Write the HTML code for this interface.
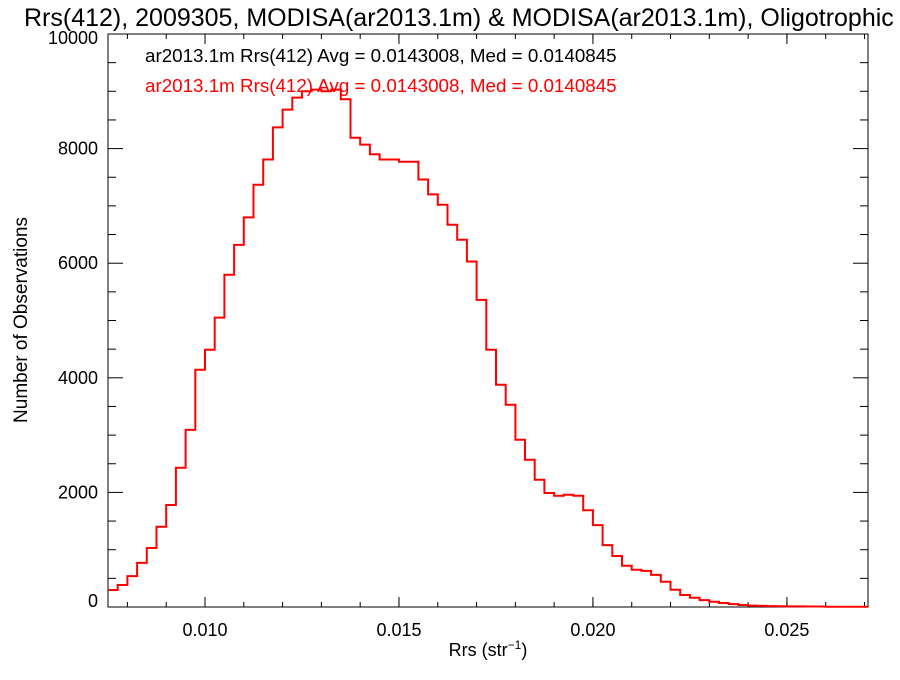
<!DOCTYPE html>
<html><head><meta charset="utf-8"><style>
body{margin:0;background:#fff;width:900px;height:675px;overflow:hidden;font-family:"Liberation Sans",sans-serif}
</style></head><body>
<svg id="chart" width="900" height="675" xmlns="http://www.w3.org/2000/svg" font-family="Liberation Sans, sans-serif">
<text x="24" y="26" font-size="25">Rrs(412), 2009305, MODISA(ar2013.1m) &amp; MODISA(ar2013.1m), Oligotrophic</text>
<rect x="108" y="34" width="760" height="573" fill="none" stroke="#000" stroke-width="1"/>
<g id="axes"></g>
<path id="hist" fill="none" stroke="#f00" stroke-width="2"/>
<text x="145" y="62" font-size="18.8" fill="#000">ar2013.1m Rrs(412) Avg = 0.0143008, Med = 0.0140845</text>
<text x="145" y="92" font-size="18.8" fill="#f00">ar2013.1m Rrs(412) Avg = 0.0143008, Med = 0.0140845</text>
<text x="488" y="656" font-size="18" text-anchor="middle">Rrs (str<tspan font-size="12" dy="-7">−1</tspan><tspan dy="7">)</tspan></text>
<text transform="translate(27,320) rotate(-90)" font-size="19" text-anchor="middle">Number of Observations</text>
</svg>
<script>
const binStart = 0.0075;
const binWidth = 0.00025;
const counts = [297,384,540,770,1030,1400,1780,2430,3090,4140,4490,5050,5800,6320,6800,7370,7810,8370,8680,8890,9000,9030,9000,9030,8860,8190,8070,7900,7810,7810,7770,7770,7460,7200,7020,6670,6410,6030,5360,4490,3880,3530,2920,2570,2220,1990,1940,1960,1940,1690,1430,1080,890,720,650,630,560,440,300,210,160,120,90,70,50,35,25,20,15,12,10,10,8,8,6,6,5,5,5];
const xTicks = [0.010,0.015,0.020,0.025];
const xTickLabels = ["0.010","0.015","0.020","0.025"];
const yTicks = [0,2000,4000,6000,8000,10000];
const yTickLabels = ["0","2000","4000","6000","8000","10000"];
const X0=108,X1=868,Y0=607,Y1=34,xmin=0.0075,xmax=0.02709,ymin=0,ymax=10000;
const sx=v=>X0+(v-xmin)/(xmax-xmin)*(X1-X0);
const sy=v=>Y0-(v-ymin)/(ymax-ymin)*(Y0-Y1);
const NS="http://www.w3.org/2000/svg";
const ax=document.getElementById('axes');
function mk(t,a){const e=document.createElementNS(NS,t);for(const k in a)e.setAttribute(k,a[k]);return e;}
xTicks.forEach((v,i)=>{
  const x=sx(v);
  const t1=mk('line',{x1:x,x2:x,y1:Y0,y2:Y0-10,stroke:'#000'});
  
  
  ax.appendChild(t1);
  const t2=mk('line',{x1:x,x2:x,y1:Y1,y2:Y1+10,stroke:'#000'});
  
  
  ax.appendChild(t2);
  const l=mk('text',{x:x,y:Y0+29,'font-size':18,'text-anchor':'middle'});
  l.textContent=xTickLabels[i];
  
  
  ax.appendChild(l);
});
for(let v=0.008;v<xmax;v+=0.001){const x=sx(v);
  const m=mk('line',{x1:x,x2:x,y1:Y0,y2:Y0-5,stroke:'#000'});
  
  
  ax.appendChild(m);
  const m2=mk('line',{x1:x,x2:x,y1:Y1,y2:Y1+5,stroke:'#000'});
  
  
  ax.appendChild(m2);}
yTicks.forEach((v,i)=>{
  const y=sy(v);
  const t1=mk('line',{x1:X0,x2:X0+15,y1:y,y2:y,stroke:'#000'});
  
  
  ax.appendChild(t1);
  const t2=mk('line',{x1:X1,x2:X1-15,y1:y,y2:y,stroke:'#000'});
  
  
  ax.appendChild(t2);
  const l=mk('text',{x:X0-10,y:(v===0?y:(v===10000?y+10:y+6)),'font-size':18,'text-anchor':'end'});
  l.textContent=yTickLabels[i];
  
  
  ax.appendChild(l);
});
for(let v=500;v<ymax;v+=500){if(v%2000===0)continue;const y=sy(v);
  const m=mk('line',{x1:X0,x2:X0+8,y1:y,y2:y,stroke:'#000'});
  
  
  ax.appendChild(m);
  const m2=mk('line',{x1:X1,x2:X1-8,y1:y,y2:y,stroke:'#000'});
  
  
  ax.appendChild(m2);}
let d='';
counts.forEach((c,i)=>{
  const xa=Math.max(X0,sx(binStart+i*binWidth)), xb=Math.min(X1,sx(binStart+(i+1)*binWidth)), y=sy(c);
  if(xa>=X1)return;
  d+=(i===0?'M':'L')+xa.toFixed(1)+','+y.toFixed(1)+'L'+xb.toFixed(1)+','+y.toFixed(1);
});
document.getElementById('hist').setAttribute('d',d);
</script>
</body></html>
